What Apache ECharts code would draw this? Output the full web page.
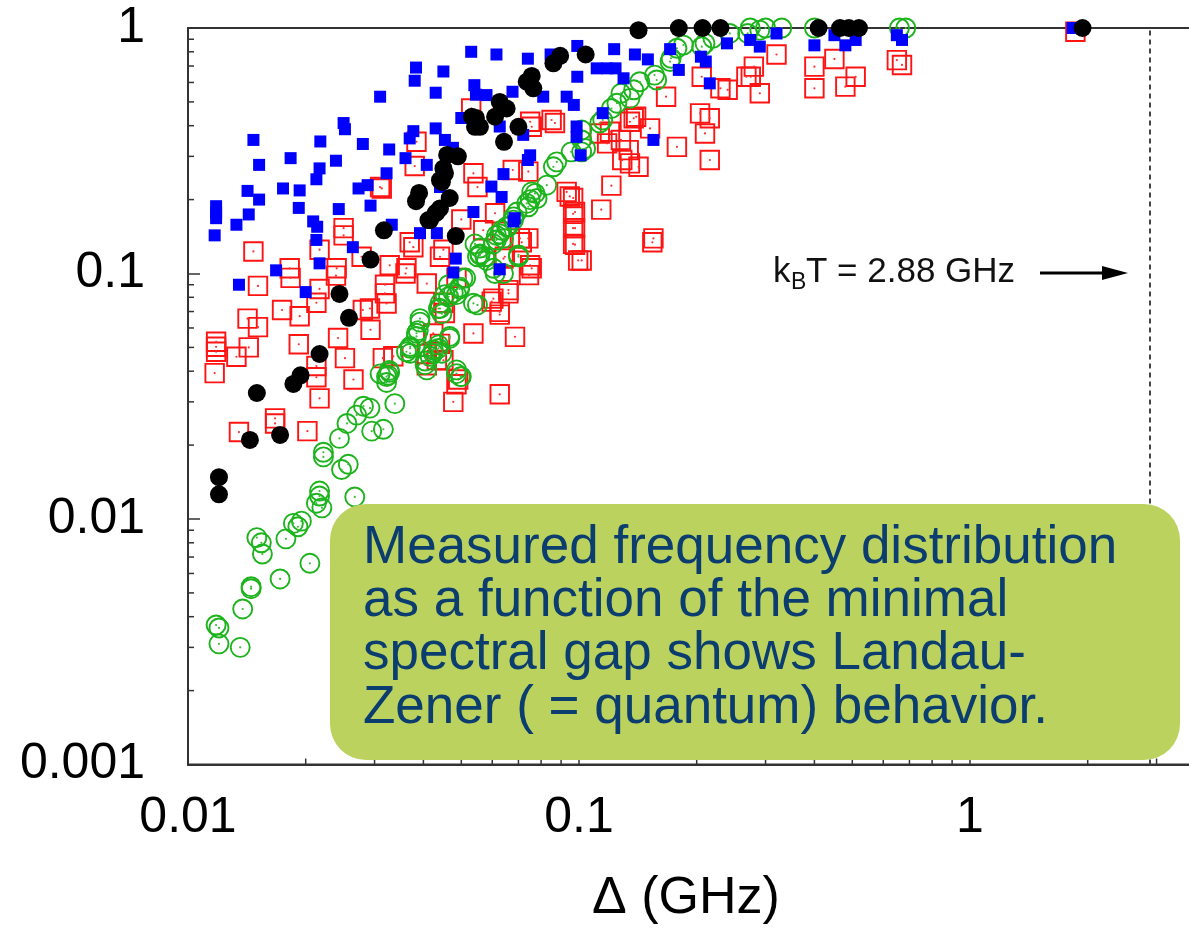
<!DOCTYPE html>
<html><head><meta charset="utf-8">
<script src="https://cdn.jsdelivr.net/npm/echarts@6/dist/echarts.min.js"></script>
<style>html,body{margin:0;padding:0;background:#fff}#c{width:1189px;height:930px}</style>
</head><body><div id="c"></div>
<script>
const xTickLabels = {'-2':'0.01','-1':'0.1','0':'1','1':'10'};
const yTickLabels = {'-3':'0.001','-2':'0.01','-1':'0.1','0':'1'};
const xMinorTicks = [0.02,0.03,0.04,0.05,0.06,0.07,0.08,0.09,0.2,0.3,0.4,0.5,0.6,0.7,0.8,0.9,2,3,4,5,6,7,8,9];
const yMinorTicks = [0.002,0.003,0.004,0.005,0.006,0.007,0.008,0.009,0.02,0.03,0.04,0.05,0.06,0.07,0.08,0.09,0.2,0.3,0.4,0.5,0.6,0.7,0.8,0.9];
const kBT = 2.88;

const bluePts = [[0.053,0.80],[0.0383,0.69],[0.045,0.665],[0.038,0.61],[0.054,0.585],[0.043,0.545],[0.0545,0.535],[0.031,0.525],[0.050,0.43],[0.025,0.41],[0.0252,0.387],[0.0377,0.38],[0.043,0.39],[0.0369,0.355],[0.0147,0.35],[0.0218,0.345],[0.028,0.337],[0.0327,0.32],[0.0454,0.35],[0.0476,0.325],[0.0183,0.295],[0.0239,0.288],[0.0152,0.277],[0.0217,0.268],[0.0408,0.277],[0.036,0.295],[0.0213,0.242],[0.0322,0.256],[0.0175,0.222],[0.0193,0.218],[0.0142,0.217],[0.0152,0.20],[0.0273,0.222],[0.0288,0.229],[0.0441,0.225],[0.0118,0.188],[0.0118,0.177],[0.0118,0.168],[0.0143,0.174],[0.0133,0.158],[0.0192,0.185],[0.0243,0.183],[0.0293,0.189],[0.0117,0.143],[0.0209,0.163],[0.0214,0.155],[0.0213,0.137],[0.0264,0.128],[0.0332,0.158],[0.0392,0.146],[0.0433,0.146],[0.0537,0.178],[0.0484,0.115],[0.0217,0.11],[0.0168,0.103],[0.0135,0.09],[0.020,0.084],[0.0477,0.101],[0.0615,0.78],[0.074,0.75],[0.099,0.845],[0.123,0.82],[0.139,0.78],[0.0846,0.78],[0.099,0.633],[0.111,0.685],[0.118,0.685],[0.124,0.685],[0.130,0.624],[0.15,0.745],[0.18,0.675],[0.171,0.82],[0.205,0.764],[0.211,0.73],[0.216,0.595],[0.239,0.866],[0.058,0.533],[0.0676,0.55],[0.081,0.525],[0.093,0.525],[0.097,0.486],[0.0627,0.397],[0.072,0.367],[0.0986,0.397],[0.0986,0.36],[0.101,0.303],[0.115,0.45],[0.155,0.35],[0.0641,0.254],[0.075,0.303],[0.074,0.29],[0.0597,0.226],[0.0634,0.205],[0.0685,0.168],[0.0627,0.104],[0.068,0.163],[0.274,0.894],[0.29,0.84],[0.32,0.95],[0.40,0.85],[0.45,0.935],[0.48,0.85],[0.51,0.894],[0.65,0.935],[0.67,0.894],[1.83,1.0]];

const blackPts = [[0.0532,0.435],[0.0542,0.396],[0.046,0.304],[0.049,0.30],[0.045,0.268],[0.0454,0.256],[0.0441,0.24],[0.039,0.213],[0.0383,0.197],[0.0467,0.203],[0.0441,0.184],[0.043,0.176],[0.0412,0.165],[0.0317,0.15],[0.0484,0.142],[0.0293,0.114],[0.0244,0.0826],[0.0258,0.066],[0.0217,0.047],[0.0194,0.0385],[0.0186,0.0355],[0.015,0.0326],[0.0144,0.021],[0.0172,0.022],[0.0120,0.0148],[0.0120,0.0126],[0.142,0.98],[0.18,1.0],[0.207,1.0],[0.23,1.0],[0.0895,0.77],[0.086,0.718],[0.104,0.78],[0.0757,0.638],[0.0735,0.604],[0.0764,0.568],[0.0627,0.50],[0.0653,0.47],[0.0545,0.43],[0.0558,0.396],[0.061,0.435],[0.07,0.396],[0.0643,0.344],[0.0446,0.242],[0.0446,0.236],[0.0416,0.165],[0.0433,0.178],[0.41,1.0],[0.465,1.0],[0.49,1.0],[0.52,1.0],[1.94,1.0]];

const redPts = [[0.053,0.47],[0.0384,0.344],[0.038,0.274],[0.0313,0.222],[0.0537,0.256],[0.055,0.225],[0.050,0.166],[0.0369,0.134],[0.0377,0.128],[0.045,0.125],[0.0441,0.117],[0.0147,0.123],[0.0217,0.125],[0.025,0.153],[0.025,0.143],[0.0328,0.108],[0.0278,0.117],[0.0182,0.105],[0.024,0.105],[0.0362,0.105],[0.031,0.225],[0.0151,0.089],[0.0183,0.096],[0.0239,0.098],[0.0217,0.0865],[0.0213,0.076],[0.036,0.10],[0.0319,0.09],[0.0319,0.083],[0.0408,0.091],[0.045,0.076],[0.0454,0.069],[0.0292,0.072],[0.028,0.071],[0.0293,0.059],[0.0174,0.071],[0.0193,0.067],[0.0142,0.0655],[0.0151,0.0605],[0.0242,0.0546],[0.0192,0.0515],[0.0143,0.050],[0.0118,0.0527],[0.0118,0.0503],[0.0118,0.048],[0.0133,0.0458],[0.0117,0.0393],[0.0213,0.042],[0.0213,0.0378],[0.0252,0.0452],[0.0265,0.037],[0.0217,0.031],[0.0315,0.0452],[0.0335,0.046],[0.0424,0.057],[0.0433,0.0444],[0.0408,0.0423],[0.0491,0.037],[0.0486,0.0354],[0.0477,0.030],[0.0537,0.057],[0.0167,0.0257],[0.0167,0.0245],[0.0135,0.0226],[0.0202,0.0228],[0.0322,0.0755],[0.0714,0.134],[0.0977,0.131],[0.154,0.134],[0.1016,0.113],[0.075,0.108],[0.0745,0.0985],[0.0641,0.115],[0.066,0.083],[0.0598,0.0768],[0.0627,0.068],[0.0686,0.0552],[0.0627,0.0322],[0.0947,0.206],[0.0966,0.175],[0.0966,0.153],[0.0966,0.132],[0.0995,0.113],[0.0569,0.15],[0.061,0.176],[0.0706,0.139],[0.0646,0.117],[0.0757,0.105],[0.0486,0.096],[0.0604,0.079],[0.066,0.0856],[0.0627,0.0698],[0.0408,0.047],[0.0441,0.0517],[0.045,0.0443],[0.075,0.415],[0.0757,0.396],[0.0851,0.422],[0.0868,0.41],[0.0742,0.26],[0.0677,0.264],[0.121,0.228],[0.114,0.182],[0.093,0.215],[0.0966,0.203],[0.0977,0.178],[0.0977,0.153],[0.0742,0.139],[0.113,0.372],[0.120,0.378],[0.118,0.339],[0.128,0.35],[0.134,0.318],[0.129,0.29],[0.135,0.281],[0.142,0.272],[0.138,0.429],[0.152,0.39],[0.14,0.435],[0.178,0.328],[0.216,0.29],[0.204,0.449],[0.216,0.429],[0.21,0.372],[0.167,0.525],[0.206,0.633],[0.23,0.568],[0.24,0.56],[0.268,0.633],[0.155,0.139],[0.135,0.415],[1.86,0.966],[0.32,0.78],[0.28,0.696],[0.275,0.633],[0.29,0.542],[0.40,0.696],[0.40,0.568],[0.45,0.748],[0.51,0.633],[0.48,0.577],[0.65,0.74],[0.67,0.707]];

const greenPts = [[0.0217,0.013],[0.0217,0.0124],[0.0213,0.0116],[0.0267,0.0123],[0.0195,0.0098],[0.0186,0.0096],[0.0191,0.0093],[0.0178,0.0083],[0.015,0.0084],[0.0154,0.008],[0.0155,0.0072],[0.0205,0.0066],[0.0172,0.0057],[0.0145,0.0053],[0.0145,0.0052],[0.0138,0.0043],[0.0118,0.0037],[0.0120,0.0036],[0.0120,0.0031],[0.0136,0.0030],[0.0220,0.0111],[0.0247,0.0159],[0.0257,0.0167],[0.0222,0.0179],[0.0222,0.0187],[0.0244,0.0213],[0.0255,0.0245],[0.0295,0.0228],[0.0316,0.0232],[0.027,0.0265],[0.0281,0.0288],[0.0292,0.0283],[0.0338,0.0295],[0.0322,0.036],[0.0325,0.0385],[0.0327,0.0403],[0.031,0.039],[0.0392,0.0634],[0.0384,0.0571],[0.037,0.0496],[0.037,0.0473],[0.0404,0.0425],[0.0408,0.0405],[0.0424,0.0488],[0.0437,0.0495],[0.0441,0.072],[0.0446,0.0686],[0.0464,0.0804],[0.0467,0.0544],[0.0486,0.0405],[0.0498,0.038],[0.0513,0.0958],[0.0537,0.0756],[0.0495,0.0865],[0.0477,0.0833],[0.0424,0.0473],[0.0757,0.215],[0.0781,0.202],[0.0827,0.229],[0.0735,0.193],[0.0694,0.178],[0.068,0.165],[0.0659,0.155],[0.0634,0.150],[0.0615,0.143],[0.0641,0.139],[0.0604,0.132],[0.0542,0.132],[0.0558,0.119],[0.0575,0.117],[0.0604,0.105],[0.0641,0.10],[0.0700,0.117],[0.0505,0.0957],[0.0495,0.088],[0.0464,0.09],[0.0486,0.082],[0.0454,0.082],[0.0441,0.0756],[0.0437,0.072],[0.055,0.0745],[0.0392,0.0655],[0.0388,0.0585],[0.0384,0.0554],[0.037,0.0504],[0.0362,0.048],[0.0437,0.0512],[0.0446,0.0473],[0.0416,0.046],[0.0467,0.0554],[0.0404,0.044],[0.0486,0.0391],[0.050,0.038],[0.0328,0.0396],[0.0322,0.038],[0.243,0.95],[0.27,0.95],[0.22,0.908],[0.21,0.866],[0.206,0.839],[0.185,0.852],[0.178,0.827],[0.172,0.753],[0.171,0.73],[0.156,0.643],[0.158,0.614],[0.143,0.604],[0.138,0.56],[0.135,0.517],[0.128,0.542],[0.125,0.494],[0.121,0.47],[0.115,0.422],[0.113,0.41],[0.1016,0.384],[0.1016,0.35],[0.1016,0.313],[0.104,0.323],[0.0955,0.313],[0.0877,0.285],[0.086,0.272],[0.0772,0.212],[0.075,0.20],[0.0742,0.187],[0.068,0.17],[0.0653,0.155],[0.0627,0.145],[0.0615,0.137],[0.0558,0.127],[0.055,0.117],[0.058,0.113],[0.070,0.119],[0.274,1.0],[0.29,0.98],[0.30,1.0],[0.33,1.0],[0.40,1.0],[0.66,1.0],[0.685,1.0],[0.061,0.10],[0.0558,0.12]];

const boxLines = ['Measured frequency distribution','as a function of the minimal','spectral gap shows Landau-','Zener ( = quantum) behavior.'];

const FONT = '"Liberation Sans", Arial, Helvetica, sans-serif';
const chart = echarts.init(document.getElementById('c'));

const tickSeries = (vals, isX) => ({
  type: 'custom', silent: true, clip: false, z: 5,
  data: vals.map(v => isX ? [v, 0.001] : [0.01, v]),
  renderItem: (params, api) => {
    const p = api.coord([api.value(0), api.value(1)]);
    return { type: 'line',
      shape: isX ? {x1: p[0], y1: p[1], x2: p[0], y2: p[1] - 6} : {x1: p[0], y1: p[1], x2: p[0] + 6, y2: p[1]},
      style: {stroke: '#333', lineWidth: 1.5} };
  }
});

const boxGraphics = boxLines.map((t, i) => ({
  type: 'text', z: 101, x: 363, y: 548 + i * 53.4,
  style: {text: t, font: '53px ' + FONT, fill: '#0b3d6e', verticalAlign: 'middle', align: 'left'}
}));

chart.setOption({
  backgroundColor: '#fff',
  animation: false,
  grid: {left: 188, top: 28, width: 1173, height: 736.5, outerBoundsMode: 'none', containLabel: false,
    show: true, borderColor: '#333', borderWidth: 2, backgroundColor: 'transparent'},
  xAxis: {
    type: 'log', logBase: 10, min: 0.01, max: 10, splitNumber: 3,
    axisLine: {show: true, lineStyle: {color: '#333', width: 2}},
    axisTick: {show: true, inside: true, length: 11, lineStyle: {color: '#333', width: 1.5}},
    minorTick: {show: false}, splitLine: {show: false},
    axisLabel: {margin: 54, verticalAlign: 'middle', fontSize: 50, fontFamily: FONT, color: '#000',
      formatter: v => xTickLabels[String(Math.round(Math.log10(v)))] || ''}
  },
  yAxis: {
    type: 'log', logBase: 10, min: 0.001, max: 1, splitNumber: 3,
    axisLine: {show: true, lineStyle: {color: '#333', width: 2}},
    axisTick: {show: true, inside: true, length: 12, lineStyle: {color: '#333', width: 1.5}},
    minorTick: {show: false}, splitLine: {show: false},
    axisLabel: {margin: 43, fontSize: 50, fontFamily: FONT, color: '#000',
      formatter: v => yTickLabels[String(Math.round(Math.log10(v)))] || ''}
  },
  series: [
    tickSeries(xMinorTicks, true),
    tickSeries(yMinorTicks, false),
    {type: 'scatter', name: 'red', data: redPts, symbol: 'rect', symbolSize: 18.5, clip: false, z: 2,
      itemStyle: {color: 'rgba(0,0,0,0)', borderColor: '#ff1414', borderWidth: 1.9, opacity: 1}},
    {type: 'scatter', name: 'redDot', data: redPts, symbol: 'circle', symbolSize: 2.2, clip: false, z: 2,
      itemStyle: {color: '#ff3030', opacity: 1}},
    {type: 'scatter', name: 'green', data: greenPts, symbol: 'circle', symbolSize: 19, clip: false, z: 3,
      itemStyle: {color: 'rgba(0,0,0,0)', borderColor: '#1db31d', borderWidth: 1.9, opacity: 1}},
    {type: 'scatter', name: 'greenDot', data: greenPts, symbol: 'circle', symbolSize: 2.2, clip: false, z: 3,
      itemStyle: {color: '#3cbc3c', opacity: 1}},
    {type: 'scatter', name: 'blue', data: bluePts, symbol: 'rect', symbolSize: 12, clip: false, z: 4,
      itemStyle: {color: '#0000ff', opacity: 1},
      markLine: {silent: true, symbol: ['none', 'none'], label: {show: false},
        lineStyle: {type: [5, 4], color: '#444', width: 2, opacity: 1},
        data: [{xAxis: kBT}]}},
    {type: 'scatter', name: 'black', data: blackPts, symbol: 'circle', symbolSize: 18, clip: false, z: 5,
      itemStyle: {color: '#000', opacity: 1}}
  ],
  graphic: [
    {type: 'rect', z: 100, shape: {x: 330, y: 504, width: 850, height: 256, r: 36}, style: {fill: '#bcd25f'}},
    ...boxGraphics,
    {type: 'text', z: 20, x: 773, y: 272, style: {text: 'k', font: '35px ' + FONT, fill: '#111', verticalAlign: 'middle'}},
    {type: 'text', z: 20, x: 791, y: 283, style: {text: 'B', font: '23px ' + FONT, fill: '#111', verticalAlign: 'middle'}},
    {type: 'text', z: 20, x: 806, y: 272, style: {text: 'T = 2.88 GHz', font: '35px ' + FONT, fill: '#111', verticalAlign: 'middle'}},
    {type: 'line', z: 20, shape: {x1: 1040, y1: 273, x2: 1108, y2: 273}, style: {stroke: '#000', lineWidth: 3}},
    {type: 'polygon', z: 20, shape: {points: [[1102, 266], [1128, 273], [1102, 280]]}, style: {fill: '#000'}},
    {type: 'text', z: 20, x: 686, y: 899, style: {text: '\u0394 (GHz)', font: '52px ' + FONT, fill: '#000', align: 'center', verticalAlign: 'middle'}}
  ]
});
</script></body></html>
